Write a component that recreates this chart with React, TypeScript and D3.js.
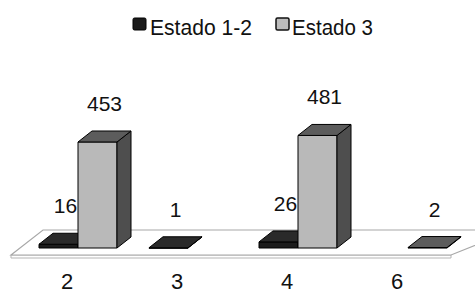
import React from 'react';
import * as d3 from 'd3';

// data
const categories = ['2', '3', '4', '6'];
const seriesNames = ['Estado 1-2', 'Estado 3'];
const estado12: (number | null)[] = [16, 1, 26, null];
const estado3: (number | null)[] = [453, null, 481, 2];

const W = 475;
const H = 296;
const FONT = "'Liberation Sans Narrow', 'Liberation Sans', Arial, sans-serif";

// fill colours per series: front, top, side
const palette = [
  { front: '#1c1c1c', top: '#2a2a2a', side: '#111111', legend: '#1a1a1a' },
  { front: '#b9b9b9', top: '#5c5c5c', side: '#4e4e4e', legend: '#bdbdbd' },
];

export default function App() {
  const baseY = 248; // front bottom edge of the bars
  const depth = { dx: 14, dy: -11 };

  const x = d3.scaleBand<string>().domain(categories).range([20, 460]).padding(0);
  const sub = d3.scaleBand<string>().domain(seriesNames).range([0, 78]).padding(0);
  const y = d3.scaleLinear().domain([0, 500]).range([baseY, 131]);

  const groupOffset = (x.bandwidth() - 80) / 2 + 4;

  const series = [estado12, estado3];

  // floor slab (bars sit in the middle of its depth)
  const x0 = x.range()[0];
  const x1 = x.range()[1];
  const fl = { fx: -9, fy: 7, bx: 23, by: -18 };
  const floorTop = [
    [x0 + fl.fx, baseY + fl.fy],
    [x0 + fl.bx, baseY + fl.by],
    [x1 + fl.bx + 30, baseY + fl.by],
    [x1 + fl.fx, baseY + fl.fy],
  ];
  const floorFront = [
    [x0 + fl.fx, baseY + fl.fy],
    [x1 + fl.fx, baseY + fl.fy],
    [x1 + fl.fx, baseY + fl.fy + 3],
    [x0 + fl.fx, baseY + fl.fy + 3],
  ];
  const poly = (pts: number[][]) => pts.map((p) => p.join(',')).join(' ');

  const bars: any[] = [];
  categories.forEach((c, i) => {
    series.forEach((vals, s) => {
      const v = vals[i];
      if (v == null) return;
      const left = (x(c) as number) + groupOffset + (sub(seriesNames[s]) as number);
      const w = sub.bandwidth();
      bars.push({ c, s, v, left, w, top: y(v) });
    });
  });

  return (
    <svg
      width={W}
      height={H}
      fontFamily={FONT}
      style={{ position: 'absolute', left: 0, top: 0, background: '#fff' }}
    >
      {/* legend */}
      <g>
        <rect x={133} y={18} width={13} height={12} rx={1.5} fill={palette[0].legend} stroke="#000" />
        <text x={150} y={35} fontSize={22} fill="#111" textLength={102} lengthAdjust="spacingAndGlyphs">
          {seriesNames[0]}
        </text>
        <rect x={276} y={18} width={13} height={12} rx={1.5} fill={palette[1].legend} stroke="#111" strokeWidth={1.5} />
        <text x={292} y={35} fontSize={22} fill="#111" textLength={81} lengthAdjust="spacingAndGlyphs">
          {seriesNames[1]}
        </text>
      </g>

      {/* floor */}
      <polygon points={poly(floorFront)} fill="#fff" stroke="#b5b5b5" strokeWidth={1} />
      <polygon points={poly(floorTop)} fill="#fff" stroke="#a8a8a8" strokeWidth={1.2} />

      {/* bars */}
      {bars.map((b, k) => {
        const col = palette[b.s];
        const { dx, dy } = depth;
        const r = b.left + b.w;
        const top = [
          [b.left, b.top],
          [r, b.top],
          [r + dx, b.top + dy],
          [b.left + dx, b.top + dy],
        ];
        const side = [
          [r, b.top],
          [r + dx, b.top + dy],
          [r + dx, baseY + dy],
          [r, baseY],
        ];
        return (
          <g key={k} stroke="#000" strokeWidth={1} strokeLinejoin="round">
            <rect x={b.left} y={b.top} width={b.w} height={Math.max(baseY - b.top, 0.5)} fill={col.front} />
            <polygon points={poly(side)} fill={col.side} />
            <polygon points={poly(top)} fill={col.top} />
          </g>
        );
      })}

      {/* value labels */}
      {bars.map((b, k) => (
        <text
          key={'l' + k}
          x={b.left + b.w / 2 + depth.dx / 2}
          y={b.top - 31}
          textAnchor="middle"
          fontSize={21}
          fill="#111"
        >
          {b.v}
        </text>
      ))}

      {/* category labels */}
      {categories.map((c) => (
        <text
          key={c}
          x={(x(c) as number) + x.bandwidth() / 2 - 8}
          y={289}
          textAnchor="middle"
          fontSize={22}
          fill="#111"
        >
          {c}
        </text>
      ))}
    </svg>
  );
}
